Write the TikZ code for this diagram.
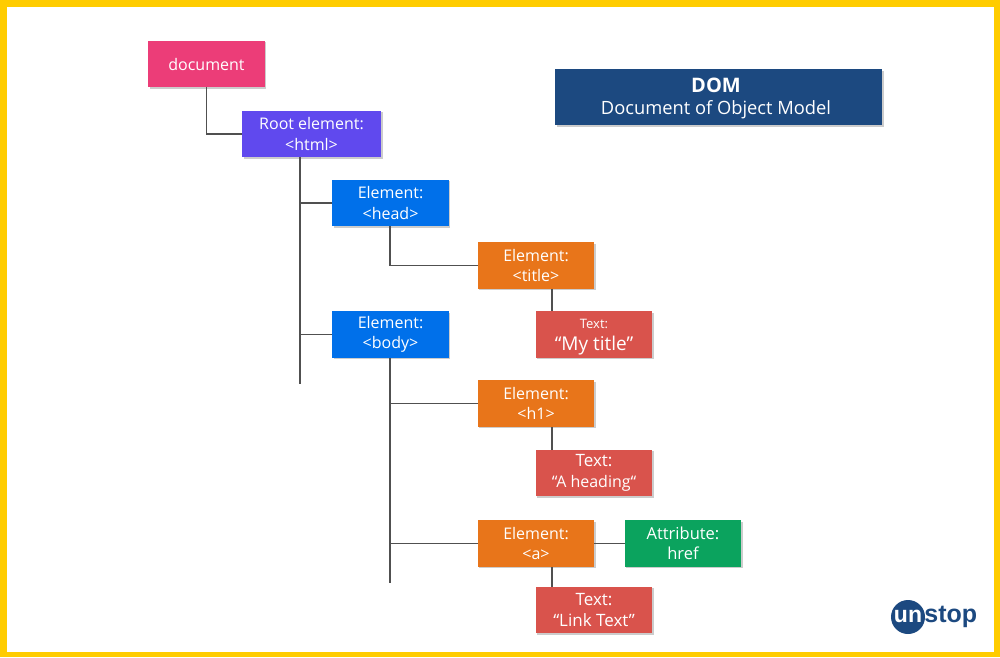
\documentclass[tikz,border=0pt]{standalone}
\usepackage{fontspec}
\setmainfont{Open Sans}
\newfontfamily\logofont{Liberation Sans}
\usetikzlibrary{shadows}
\definecolor{framecol}{HTML}{FFCC00}
\definecolor{doccol}{HTML}{EC3D78}
\definecolor{rootcol}{HTML}{6049EE}
\definecolor{headcol}{HTML}{0070EA}
\definecolor{elemcol}{HTML}{E8751A}
\definecolor{textcol}{HTML}{D9534C}
\definecolor{attrcol}{HTML}{0BA35E}
\definecolor{navycol}{HTML}{1C4980}
\definecolor{linecol}{HTML}{505050}

\begin{document}
\begin{tikzpicture}[x=1pt,y=-1pt]
\tikzstyle{box}=[
  rectangle,
  text=white,
  align=center,
  inner sep=0pt,
  minimum width=116.5pt,
  minimum height=46.5pt,
  font=\fontsize{16}{20.5}\selectfont,
  drop shadow={shadow xshift=1.5pt,shadow yshift=-1.5pt,fill=black,opacity=0.2} ]
\tikzstyle{leaf}=[box,fill=textcol,font=\fontsize{17}{20.5}\selectfont]
\tikzstyle{conn}=[draw=linecol,line width=1.5pt]
\useasboundingbox (0,0) rectangle (1000,657);
\fill[framecol] (0,0) rectangle (1000,657);
\fill[white] (7,7) rectangle (994,652);

\node[box,fill=doccol] (document) at (206.5,64) {document};
\node[box,fill=rootcol,minimum width=139pt] (rootel) at (311.5,134) {Root element:\\<html>};
\node[box,fill=headcol] (headel) at (390.5,203) {Element:\\<head>};
\node[box,fill=headcol] (bodyel) at (390.5,334.5) {Element:\\<body>};
\node[box,fill=elemcol] (titleel) at (536,265.5) {Element:\\<title>};
\node[box,fill=elemcol] (h1el) at (536,403.5) {Element:\\<h1>};
\node[box,fill=elemcol] (ael) at (536,543.5) {Element:\\<a>};
\node[leaf] (mytitle) at (594,334.5) {\rule{0pt}{15pt}{\fontsize{13}{14}\selectfont Text:}\\[1pt]{\fontsize{19}{20.5}\selectfont “My title”}};
\node[leaf] (heading) at (594,473) {Text:\\{\fontsize{16}{20.5}\selectfont “A heading“}};
\node[leaf] (linktext) at (594,610) {Text:\\“Link Text”};
\node[box,fill=attrcol,font=\fontsize{16.5}{20.5}\selectfont] (attr) at (683,543.5) {Attribute:\\href};
\node[box,fill=navycol,minimum width=327pt,minimum height=56pt,font=\fontsize{18.3}{22}\selectfont] (dom) at (718.5,97) {\rule{0pt}{18pt}{\fontsize{20}{22}\selectfont\textbf{DOM}}\hspace*{5pt}\\Document of Object Model\hspace*{5pt}};

\coordinate (rootend) at (300,384);
\coordinate (bodyend) at (390,583);
\coordinate (drop) at (552,300);

\draw[conn] (document.south) |- (rootel.west);
\draw[conn] (rootend |- rootel.south) -- (rootend);
\draw[conn] (headel.west) -- (headel.west -| rootend);
\draw[conn] (bodyel.west) -- (bodyel.west -| rootend);
\draw[conn] (headel.south -| bodyend) |- (titleel.west);
\draw[conn] (bodyel.south -| bodyend) -- (bodyend);
\draw[conn] (h1el.west) -- (h1el.west -| bodyend);
\draw[conn] (ael.west) -- (ael.west -| bodyend);
\draw[conn] (ael.east) -- (attr.west);
\draw[conn] (drop |- titleel.south) -- (drop |- mytitle.north);
\draw[conn] (drop |- h1el.south) -- (drop |- heading.north);
\draw[conn] (drop |- ael.south) -- (drop |- linktext.north);

% logo
\node[circle,fill=navycol,minimum size=34pt,inner sep=0pt] (logo) at (908,617) {};
\node[text=white,inner sep=0pt,font=\logofont\fontsize{23}{23}\selectfont\bfseries] (logoun) at (908,616) {un};
\node[anchor=base west,inner sep=0pt,text=navycol,font=\logofont\fontsize{25}{25}\selectfont\bfseries] (logostop) at ([xshift=2pt]logoun.base east) {stop};
\end{tikzpicture}
\end{document}
